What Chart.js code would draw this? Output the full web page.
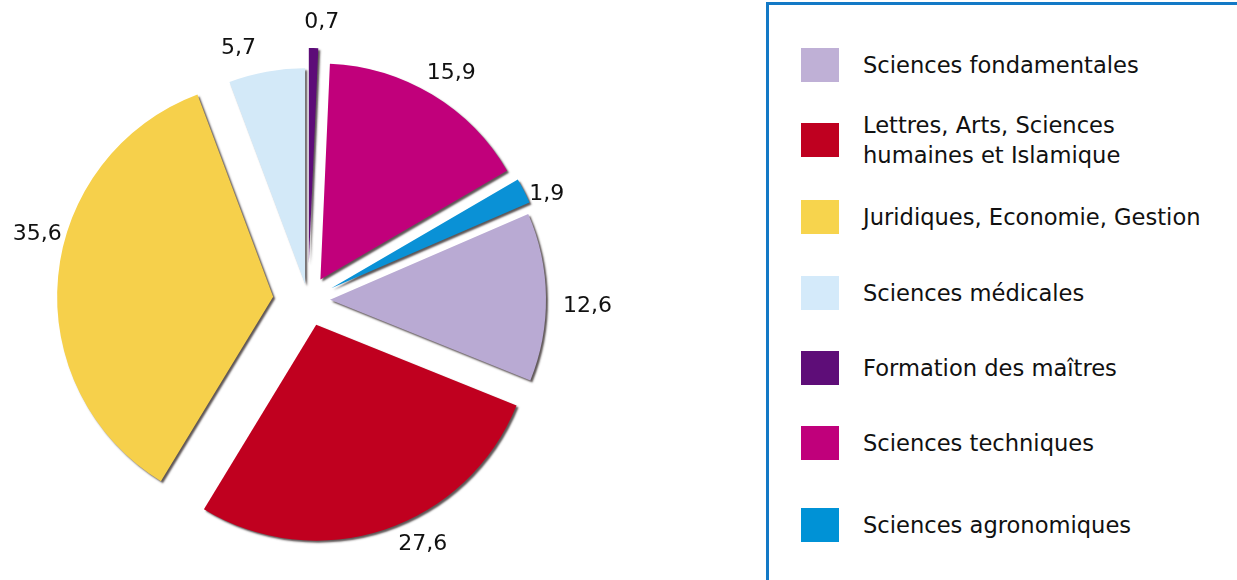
<!DOCTYPE html>
<html lang="fr">
<head>
<meta charset="utf-8">
<title>Répartition des étudiants par domaine</title>
<script src="https://cdn.jsdelivr.net/npm/chart.js@4.4.1/dist/chart.umd.min.js"></script>
<style>
  html, body { margin: 0; padding: 0; background: #fff; }
  body { width: 1237px; height: 580px; position: relative; overflow: hidden; font-family: "DejaVu Sans", sans-serif; }
  #pie-wrap { position: absolute; left: 0; top: 0; width: 616px; height: 580px; }
  #legend {
    position: absolute; left: 766px; top: 2px; width: 520px; height: 640px;
    border: 3px solid #1379c6; box-sizing: border-box;
  }
  #legend ul { list-style: none; margin: 0; padding: 0; }
  #legend li { position: absolute; left: 32px; display: flex; align-items: center; transform: translateY(-50%); }
  #legend .box { width: 38px; height: 34px; flex: none; }
  #legend .txt { margin-left: 24px; font-size: 22.6px; line-height: 30px; color: #111; white-space: nowrap; }
</style>
</head>
<body>
<div id="pie-wrap"><canvas id="pie"></canvas></div>
<div id="legend"></div>
<script>
// domaines, dans l'ordre des aiguilles d'une montre
const categories = [
  'Sciences fondamentales',
  ['Lettres, Arts, Sciences', 'humaines et Islamique'],
  'Juridiques, Economie, Gestion',
  'Sciences médicales',
  'Formation des maîtres',
  'Sciences techniques',
  'Sciences agronomiques'
];
const shares = [12.6, 27.6, 35.6, 5.7, 0.7, 15.9, 1.9];
const colors = ['#b9aad3', '#c0001f', '#f6d04b', '#d3e9f8', '#5d0c78', '#c1007b', '#0a91d6'];
const legendColors = ['#bfb0d6', '#bf0020', '#f7d44d', '#d4eafa', '#5e0d78', '#c0007b', '#0092d6'];

// décalage de chaque part vers l'extérieur, en pixels
const explode = [22, 26, 35, 16, 36, 24, 26];

// Chart.js grossit et rétrécit les petites parts décalées (selon leur circonférence) :
// on neutralise cette correction pour ne garder que la translation
const plainOffset = {
  id: 'plainOffset',
  afterDatasetUpdate(chart, args) {
    args.meta.data.forEach(arc => { arc.circumference = Math.PI / 2; });
  }
};

// ombre portée sous les parts
const shadow = {
  id: 'shadow',
  beforeDatasetDraw(chart) {
    const ctx = chart.ctx;
    ctx.save();
    ctx.shadowColor = 'rgba(40,30,30,0.75)';
    ctx.shadowBlur = 2;
    ctx.shadowOffsetX = 2;
    ctx.shadowOffsetY = 2;
  },
  afterDatasetDraw(chart) {
    chart.ctx.restore();
  }
};

// valeurs écrites à l'extérieur de chaque part
const valueLabels = {
  id: 'valueLabels',
  afterDatasetsDraw(chart, args, opts) {
    const ctx = chart.ctx;
    const meta = chart.getDatasetMeta(0);
    const ds = chart.data.datasets[0];
    ctx.save();
    ctx.font = opts.font;
    ctx.fillStyle = opts.color;
    ctx.textAlign = 'center';
    ctx.textBaseline = 'middle';
    meta.data.forEach((arc, i) => {
      const p = arc.getProps(['x', 'y', 'startAngle', 'endAngle', 'outerRadius'], true);
      const a = (p.startAngle + p.endAngle) / 2 + (opts.nudge[i] || 0) * Math.PI / 180;
      const text = String(ds.data[i]).replace('.', ',');
      const hw = ctx.measureText(text).width / 2;
      const hh = 9;
      const r = p.outerRadius + explode[i] + opts.pad[i];
      const cx = Math.cos(a), sy = Math.sin(a);
      ctx.fillText(text, p.x + cx * (r + hw), p.y + sy * (r + hh));
    });
    ctx.restore();
  }
};

const chart = new Chart(document.getElementById('pie'), {
  type: 'pie',
  data: {
    labels: categories,
    datasets: [{
      data: shares,
      backgroundColor: colors,
      borderWidth: 0,
      // l'arc est déplacé de offset / 4
      offset: explode.map(v => v * 4)
    }]
  },
  options: {
    responsive: true,
    maintainAspectRatio: false,
    animation: false,
    rotation: 66.6,
    radius: 216,
    layout: { padding: { top: 20 } },
    plugins: {
      legend: { display: false },
      tooltip: { enabled: false },
      valueLabels: {
        font: '22px "DejaVu Sans"',
        color: '#111',
        pad: [17, 16, 4, 20, 17, 15, 3],
        nudge: [2, -5.6, 9, -4.7, 1.5, -0.3, 2.2]
      }
    }
  },
  plugins: [plainOffset, shadow, valueLabels]
});

// légende dans un cadre à droite
const centers = [62, 137, 214, 290, 365, 440, 522];
const ul = document.createElement('ul');
categories.forEach((c, i) => {
  const li = document.createElement('li');
  li.style.top = (centers[i] - 2) + 'px';
  const box = document.createElement('span');
  box.className = 'box';
  box.style.background = legendColors[i];
  const txt = document.createElement('span');
  txt.className = 'txt';
  txt.innerHTML = Array.isArray(c) ? c.join('<br>') : c;
  li.appendChild(box);
  li.appendChild(txt);
  ul.appendChild(li);
});
document.getElementById('legend').appendChild(ul);
</script>
</body>
</html>
